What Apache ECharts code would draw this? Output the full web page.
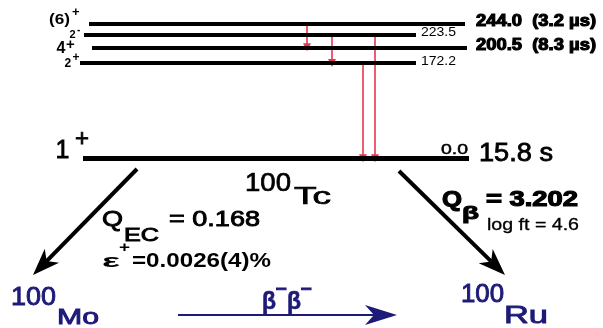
<!DOCTYPE html>
<html><head><meta charset="utf-8">
<script src="https://cdn.jsdelivr.net/npm/echarts@6/dist/echarts.min.js"></script>
<style>html,body{margin:0;padding:0;background:#fff}#c{width:603px;height:328px}</style>
</head><body><div id="c"></div>
<script>
// ---------------- data ----------------
const levelEnergy = [244.0, 223.5, 200.5, 172.2, 0.0];          // keV
const levelSpin   = ['(6)', '2', '4', '2', '1'];
const levelParity = ['+', '-', '+', '+', '+'];
const levelLabel  = ['244.0  (3.2 µs)', '223.5', '200.5  (8.3 µs)', '172.2', '0.0'];
const groundHalfLife = '15.8 s';
const gammaFrom = [244.0, 223.5, 223.5, 172.2];
const gammaTo   = [200.5, 172.2, 0.0, 0.0];
const parent    = ['100', 'Tc'];
const daughterEC = ['100', 'Mo'];
const daughterB  = ['100', 'Ru'];
const qEC = '0.168';
const epsPlus = '0.0026(4)%';
const qBeta = '3.202';
const logFt = '4.6';

// ---------------- layout ----------------
const levelX = [[89,465],[84,416],[92,467],[80,416],[83,469]];
const levelW = [4,4,4,4,5];
const gammaX = [307, 332, 375, 363];
const FAM = '"Liberation Sans", Arial, Helvetica, sans-serif';
const NAVY = '#1d1a78';
const RED = '#e8344c';

const chart = echarts.init(document.getElementById('c'));
chart.setOption({
  animation: false,
  backgroundColor: '#fff',
  grid: {left:0, right:0, top:0, bottom:0},
  xAxis: {type:'value', min:0, max:603, show:false},
  yAxis: {type:'value', min:-306.7, max:286.1, show:false},
  series: [
    {
      type:'lines', coordinateSystem:'cartesian2d', z:2,
      symbol:['none','triangle'], symbolSize:[1,8],
      lineStyle:{color:RED, width:1.6, opacity:1, curveness:0},
      data: gammaFrom.map((f,i)=>({coords:[[gammaX[i], f],[gammaX[i], gammaTo[i]]]}))
    },
    {
      type:'lines', coordinateSystem:'cartesian2d', z:3,
      lineStyle:{color:'#000', width:4, opacity:1, curveness:0},
      data: levelEnergy.map((e,i)=>({coords:[[levelX[i][0], e],[levelX[i][1], e]], lineStyle:{width:levelW[i]}}))
    }
  ]
});

const mctx = document.createElement('canvas').getContext('2d');
function txt(str, left, cy, size, o) {
  o = o || {};
  const weight = o.weight || 'normal';
  const font = weight + ' ' + size + 'px ' + FAM;
  let sx = 1;
  if (o.w) { mctx.font = font; sx = o.w / mctx.measureText(str).width; }
  const color = o.color || '#000';
  const st = {text:str, x:0, y:0, font:font, fill:color,
              textAlign:'left', textVerticalAlign:'middle', align:'left', verticalAlign:'middle'};
  if (o.heavy) { st.stroke = color; st.lineWidth = o.heavy; }
  return {type:'text', x:left, y:cy, scaleX:sx, style:st, z:10};
}
function arrow(x1,y1,x2,y2,len,hw,color,lw) {
  const dx=x2-x1, dy=y2-y1, L=Math.hypot(dx,dy), ux=dx/L, uy=dy/L, px=-uy, py=ux;
  const bx=x2-ux*len, by=y2-uy*len;
  const nx=x2-ux*len*0.72, ny=y2-uy*len*0.72;
  return [
    {type:'line', shape:{x1:x1,y1:y1,x2:nx,y2:ny}, style:{stroke:color, lineWidth:lw}, z:5},
    {type:'polygon', shape:{points:[[x2,y2],[bx+px*hw,by+py*hw],[nx,ny],[bx-px*hw,by-py*hw]]}, style:{fill:color}, z:5}
  ];
}
const ly = levelEnergy.map(e => chart.convertToPixel({xAxisIndex:0, yAxisIndex:0}, [0, e])[1]);

const spinPos = [
  {x:49,   dy:-3.3, size:15, w:21, wt:'bold',   px:72,   pdy:-11, ps:13, pwt:'bold'},
  {x:69.5, dy:0,    size:11,       wt:'bold',   px:77,   pdy:-4.5, ps:10, pwt:'bold'},
  {x:56.5, dy:1.6,  size:16,       wt:'bold',   px:66,   pdy:-3,  ps:15, pwt:'bold'},
  {x:64.5, dy:0.3,  size:12,       wt:'bold',   px:72.5, pdy:-5,  ps:12, pwt:'bold'},
  {x:55.5, dy:-7,   size:25,       wt:'normal', px:75,   pdy:-19, ps:24, pwt:'normal', heavy:0.8}
];
const labelPos = [
  {x:476, dy:-2, size:16, w:120, wt:'bold', heavy:1.1},
  {x:421, dy:-2, size:13, w:35},
  {x:476, dy:-2, size:16, w:120, wt:'bold', heavy:1.1},
  {x:421, dy:-2, size:13, w:35},
  {x:441, dy:-8.5, size:14, w:27, heavy:0.5}
];

const g = [];
levelEnergy.forEach((e,i)=>{
  const s = spinPos[i], l = labelPos[i];
  g.push(txt(levelSpin[i], s.x, ly[i]+s.dy, s.size, {weight:s.wt, w:s.w, heavy:s.heavy}));
  g.push(txt(levelParity[i], s.px, ly[i]+s.pdy, s.ps, {weight:s.pwt, heavy:s.heavy}));
  g.push(txt(levelLabel[i], l.x, ly[i]+l.dy, l.size, {weight:l.wt, w:l.w, heavy:l.heavy}));
});
g.push(txt(groundHalfLife, 479, ly[4]-4, 25, {w:74, heavy:0.8}));

// parent
g.push(txt(parent[0], 245, 184, 26, {w:46, heavy:0.7}));
g.push(txt(parent[1], 294, 198, 23, {w:37, heavy:0.7}));

// EC branch
g.push(txt('Q', 102, 220, 22, {w:21, heavy:0.9}));
g.push(txt('EC', 124, 236, 18, {w:35, heavy:0.9}));
g.push(txt('= ' + qEC, 169, 220, 22, {w:91, heavy:0.9}));
g.push(txt('ε', 102, 262, 19, {weight:'bold', w:18}));
g.push(txt('+', 119, 248, 15, {weight:'bold', w:11}));
g.push(txt('=' + epsPlus, 132, 261, 20, {weight:'bold', w:139}));

// beta branch
g.push(txt('Q', 442, 200, 22, {weight:'bold', w:20, heavy:1.2}));
g.push(txt('β', 462, 214, 18, {weight:'bold', w:17, heavy:1}));
g.push(txt('= ' + qBeta, 486, 200, 22, {weight:'bold', w:92, heavy:1.2}));
g.push(txt('log ft = ' + logFt, 487, 226, 16, {w:92, heavy:0.3}));

// daughters
g.push(txt(daughterEC[0], 11, 297.5, 26, {w:45, color:NAVY, heavy:0.9}));
g.push(txt(daughterEC[1], 57, 317.5, 22, {w:42, color:NAVY, heavy:0.9}));
g.push(txt(daughterB[0], 461, 295, 25, {w:43, color:NAVY, heavy:0.9}));
g.push(txt(daughterB[1], 504, 316, 24, {w:44, color:NAVY, heavy:0.9}));

// double beta label
g.push(txt('β', 262, 302, 24, {weight:'bold', w:14, color:NAVY, heavy:0.6}));
g.push(txt('−', 275.5, 289.5, 16, {weight:'bold', w:11, color:NAVY, heavy:1}));
g.push(txt('β', 287, 302, 24, {weight:'bold', w:14, color:NAVY, heavy:0.6}));
g.push(txt('−', 300.5, 289.5, 16, {weight:'bold', w:11, color:NAVY, heavy:1}));

// arrows
arrow(137,169,33,275,27,10,'#000',4).forEach(a=>g.push(a));
arrow(399,171,505,275,27,10,'#000',4).forEach(a=>g.push(a));
arrow(178,315,397,315,32,10,NAVY,2).forEach(a=>g.push(a));

chart.setOption({graphic: {elements: g}});
</script>
</body></html>
